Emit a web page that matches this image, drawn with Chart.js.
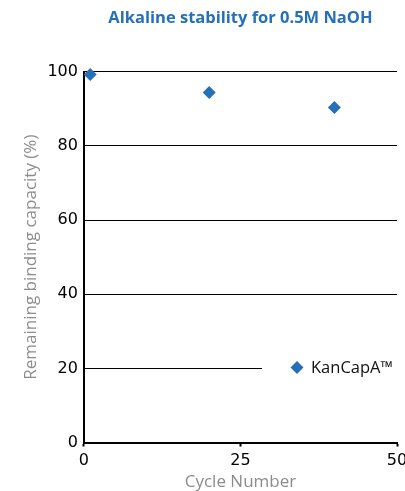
<!DOCTYPE html>
<html>
<head>
<meta charset="utf-8">
<script src="https://cdn.jsdelivr.net/npm/chart.js@4/dist/chart.umd.min.js"></script>
<style>
html,body{margin:0;padding:0;background:#fff;}
#wrap{width:405px;height:491px;position:relative;}
</style>
</head>
<body>
<div id="wrap"><canvas id="c"></canvas></div>
<script>
const chartTitle = 'Alkaline stability for 0.5M NaOH';
const seriesLabel = 'KanCapA\u2122';
const cycles = [1, 20, 40];
const capacity = [99.3, 94.4, 90.4];
const xTicks = [0, 25, 50];
const yTicks = [0, 20, 40, 60, 80, 100];
const xTitle = 'Cycle Number';
const yTitle = 'Remaining binding capacity (%)';

const blue = '#2670b8';

const legendInside = {
  id: 'legendInside',
  afterDatasetsDraw(chart) {
    const ctx = chart.ctx;
    ctx.save();
    ctx.fillStyle = '#fff';
    ctx.fillRect(262, 357, 135, 21);
    ctx.fillStyle = blue;
    Chart.helpers.drawPoint(ctx, {pointStyle: 'rectRot', radius: 6.5, rotation: 0, borderWidth: 0}, 297, 367.5);
    ctx.fillStyle = '#111';
    ctx.font = '16.5px "Open Sans"';
    ctx.textBaseline = 'middle';
    ctx.textAlign = 'left';
    ctx.fillText(chart.data.datasets[0].label, 311, 368);
    ctx.restore();
  }
};

new Chart(document.getElementById('c'), {
  type: 'scatter',
  data: {
    datasets: [{
      label: seriesLabel,
      data: cycles.map((x, i) => ({x: x, y: capacity[i]})),
      pointStyle: 'rectRot',
      pointRadius: 6.5,
      pointHoverRadius: 6.5,
      backgroundColor: blue,
      borderColor: blue,
      borderWidth: 0,
      clip: false
    }]
  },
  options: {
    responsive: true,
    maintainAspectRatio: false,
    animation: false,
    events: [],
    layout: {padding: {left: 17, right: 8, top: 0, bottom: 0}},
    plugins: {
      legend: {display: false},
      tooltip: {enabled: false},
      title: {
        display: true,
        text: chartTitle,
        fullSize: false,
        color: blue,
        font: {family: '"Open Sans"', size: 16.5, weight: 'bold'},
        padding: {top: 8, bottom: 44}
      }
    },
    scales: {
      x: {
        type: 'linear',
        min: 0,
        max: 50,
        afterBuildTicks(scale) { scale.ticks = xTicks.map(v => ({value: v})); },
        afterFit(scale) { scale.paddingRight = 0; scale.paddingLeft = 0; },
        border: {display: true, color: '#000', width: 2},
        grid: {drawOnChartArea: false, drawTicks: true, tickLength: 4, tickWidth: 2, tickColor: '#000', color: '#000'},
        ticks: {color: '#000', font: {family: '"DejaVu Sans"', size: 16, lineHeight: 1.0}, padding: 6, maxRotation: 0, autoSkip: false},
        title: {display: true, text: xTitle, color: '#8c8c8c', font: {family: '"Open Sans"', size: 17, lineHeight: 0.85}, padding: {top: 0, bottom: 2}}
      },
      y: {
        min: 0,
        max: 100,
        afterBuildTicks(scale) { scale.ticks = yTicks.map(v => ({value: v})); },
        border: {display: true, color: '#000', width: 2},
        grid: {drawTicks: false, color: '#000', lineWidth: 1},
        ticks: {color: '#000', font: {family: '"DejaVu Sans"', size: 16}, padding: 6},
        title: {display: true, text: yTitle, color: '#8c8c8c', font: {family: '"Open Sans"', size: 17}, padding: {top: 4, bottom: 0}}
      }
    }
  },
  plugins: [legendInside]
});
</script>
</body>
</html>
